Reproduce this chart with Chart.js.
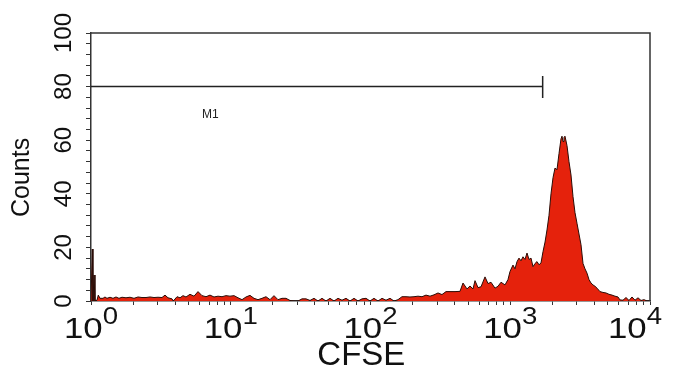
<!DOCTYPE html>
<html><head><meta charset="utf-8">
<script src="https://cdn.jsdelivr.net/npm/chart.js@4.4.1/dist/chart.umd.min.js"></script>
<style>html,body{margin:0;padding:0;background:#fff;}canvas{display:block;}</style>
</head><body>
<canvas id="c" width="674" height="371"></canvas>
<script>
// CFSE channel values (x) and event counts (y)
const cfse = [1.000,1.022,1.033,1.051,1.068,1.104,1.128,1.160,1.219,1.259,1.301,1.368,1.437,1.510,1.586,1.667,1.780,1.901,2.031,2.169,2.317,2.475,2.644,2.824,3.016,3.222,3.385,3.556,3.798,3.881,4.125,4.334,4.553,4.784,5.110,5.458,5.831,6.228,6.652,7.105,7.589,8.108,8.660,9.249,9.877,10.55,11.27,12.04,12.86,13.73,14.67,15.67,16.73,17.87,19.09,20.39,21.78,23.27,24.85,26.55,28.35,30.29,32.35,34.55,36.91,39.42,42.10,44.98,48.04,51.31,54.81,58.54,62.54,66.79,71.34,76.20,81.41,86.95,92.86,99.17,105.9,113.2,120.9,129.1,137.9,147.3,157.3,168.0,179.5,191.7,204.8,218.7,233.6,249.5,266.6,284.7,304.1,324.8,347.0,370.6,402.4,436.9,459.1,490.4,515.2,541.4,559.5,587.7,617.6,659.7,693.1,728.3,778.0,817.4,858.8,917.3,963.6,995.9,1046,1081,1118,1155,1194,1234,1275,1318,1362,1408,1455,1504,1554,1606,1660,1715,1774,1832,1894,1957,2023,2090,2160,2233,2307,2346,2385,2424,2464,2547,2632,2721,2812,2906,3003,3104,3209,3316,3427,3542,3660,3783,3909,4040,4175,4387,4610,4844,5089,5347,5618,5903,6101,6410,6735,7076,7435,7812,8207,8623,9061,9518,10000];
const counts = [0,19.4,0,9.7,0,0.3,2.2,1.0,1.0,1.5,1.0,1.4,1.0,1.5,1.0,1.4,1.2,1.4,1.0,1.5,1.3,1.3,1.5,1.3,1.4,1.3,2.2,1.2,0.8,0,1.6,1.2,2.0,1.5,2.5,1.8,3.5,2.0,1.6,2.2,1.5,1.8,1.6,2.0,1.8,2.0,1.2,0.5,1.5,2.1,1.0,0.5,1.0,1.6,0.5,2.0,0.5,1.0,1.0,0.2,0,0,0.8,0.8,0.2,1.0,0,1.0,0,1.0,0,1.0,0.3,1.0,0,1.0,0,0.8,1.0,0,1.0,0,1.0,0.3,1.0,0,0.5,1.6,1.6,1.5,1.6,1.8,1.6,2.2,1.8,2.3,3.0,2.4,3.5,3.5,3.5,3.6,6.7,4.5,5.6,4.5,7.6,5.0,5.3,9.0,6.5,7.0,4.8,5.5,7.0,6.0,8.0,11.0,13.4,12.0,14.7,16.0,15.0,16.5,15.5,17.9,15.5,16.0,12.8,14.0,14.7,13.5,14.2,18.4,22.0,26.5,32.0,40.0,46.0,49.6,49.0,55.0,60.5,61.5,59.5,61.0,61.5,58.0,52.0,47.0,39.0,33.0,29.0,25.0,21.0,14.0,12.0,10.4,8.0,6.7,6.0,5.5,4.8,3.5,3.2,3.0,2.5,2.2,1.8,1.5,0.4,0.3,1.3,0.2,1.5,0.3,1.2,0.2,0.5,0,0];

// axis ticks
const xTickValues = [1,2,3,4,5,6,7,8,9,10,20,30,40,50,60,70,80,90,100,200,300,400,500,600,700,800,900,1000,2000,3000,4000,5000,6000,7000,8000,9000,10000];
const xLabelExponents = [0,1,2,3,4];
const yLabelValues = [0,20,40,60,80,100];

// M1 gate marker
const m1Range = [1, 1706];
const m1Level = [80];
const m1Cap = [84, 75.7];
const m1LabelAt = [6.23, 69.4];

const LF = '"Liberation Sans", Arial, sans-serif';

const overlay = {
  id: 'overlay',
  afterDraw(chart) {
    const {ctx, chartArea: a, scales: {x, y}} = chart;
    ctx.save();
    ctx.strokeStyle = '#333';
    ctx.lineWidth = 1.5;
    ctx.beginPath();
    ctx.moveTo(a.left, a.top); ctx.lineTo(a.right, a.top); ctx.lineTo(a.right, a.bottom);
    ctx.stroke();
    // x tick labels 10^n
    const sx = 1.2;
    ctx.fillStyle = '#111';
    ctx.textBaseline = 'alphabetic';
    ctx.textAlign = 'left';
    xLabelExponents.forEach(e => {
      const px = x.getPixelForValue(Math.pow(10, e));
      ctx.font = '29px ' + LF;
      const w1 = ctx.measureText('10').width * sx;
      ctx.font = '23px ' + LF;
      const w2 = ctx.measureText(String(e)).width * sx;
      let left = px - (w1 + w2) / 2;
      left = Math.min(left, chart.width - 12 - (w1 + w2));
      ctx.save();
      ctx.translate(left, a.bottom + 37);
      ctx.scale(sx, 1);
      ctx.font = '29px ' + LF;
      ctx.fillText('10', 0, 0);
      ctx.restore();
      ctx.save();
      ctx.translate(left + w1, a.bottom + 23);
      ctx.scale(sx, 1);
      ctx.font = '23px ' + LF;
      ctx.fillText(String(e), 0, 0);
      ctx.restore();
    });
    // gate label
    ctx.font = '12px ' + LF;
    ctx.fillStyle = '#222';
    ctx.textBaseline = 'middle';
    ctx.fillText('M1', x.getPixelForValue(m1LabelAt[0]), y.getPixelForValue(m1LabelAt[1]));
    ctx.restore();
  }
};

new Chart(document.getElementById('c'), {
  type: 'line',
  data: {
    datasets: [
      {
        data: cfse.map((v, i) => ({x: v, y: counts[i]})),
        fill: 'origin',
        backgroundColor: '#e5220c',
        borderColor: '#2a0c06',
        borderWidth: 1,
        pointRadius: 0,
        tension: 0
      },
      {
        data: [{x: m1Range[0], y: m1Level[0]}, {x: m1Range[1], y: m1Level[0]}],
        borderColor: '#222', borderWidth: 1.5, pointRadius: 0, fill: false
      },
      {
        data: [{x: m1Range[1], y: m1Cap[0]}, {x: m1Range[1], y: m1Cap[1]}],
        borderColor: '#222', borderWidth: 1.5, pointRadius: 0, fill: false
      }
    ]
  },
  options: {
    responsive: false,
    animation: false,
    layout: {padding: {top: 33, right: 24, left: 0, bottom: 0}},
    plugins: {legend: {display: false}, tooltip: {enabled: false}},
    scales: {
      x: {
        type: 'logarithmic', min: 1, max: 10000,
        afterBuildTicks: s => { s.ticks = xTickValues.map(v => ({value: v})); },
        afterFit: s => { s.height = 70; },
        ticks: {autoSkip: false, maxRotation: 0, callback: () => ''},
        grid: {drawOnChartArea: false, drawTicks: true, tickLength: 4, tickColor: '#333', tickWidth: 1},
        border: {display: true, color: '#333', width: 1.5},
        title: {display: true, text: 'CFSE  ', color: '#111', font: {family: LF, size: 33, lineHeight: 0.9}, padding: {top: 0, bottom: 0}}
      },
      y: {
        min: 0, max: 100,
        afterFit: s => { s.width = 91; },
        ticks: {
          stepSize: 4, autoSkip: false,
          callback: v => (yLabelValues.includes(v) ? String(v) : ''),
          minRotation: 90, maxRotation: 90, crossAlign: 'center', padding: 2,
          color: '#111', font: {family: LF, size: 24}
        },
        grid: {drawOnChartArea: false, drawTicks: true, tickLength: 5, tickColor: '#333', tickWidth: 1},
        border: {display: true, color: '#333', width: 1.5},
        title: {display: true, text: 'Counts   ', color: '#111', font: {family: LF, size: 25, lineHeight: 1}, padding: {top: 10, bottom: 0}}
      }
    }
  },
  plugins: [overlay]
});
</script>
</body></html>
